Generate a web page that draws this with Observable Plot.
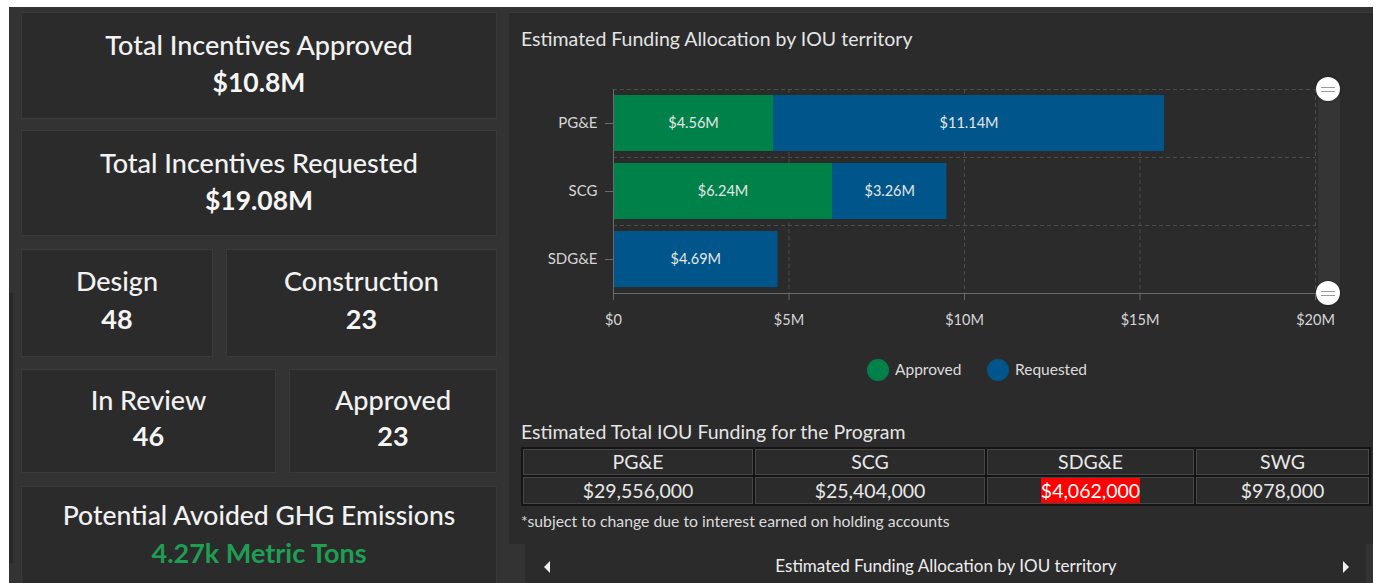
<!DOCTYPE html>
<html>
<head>
<meta charset="utf-8">
<script src="https://cdn.jsdelivr.net/npm/d3@7"></script>
<script src="https://cdn.jsdelivr.net/npm/@observablehq/plot@0.6"></script>
<style>
  html, body { margin: 0; padding: 0; background: #ffffff; }
  #page { position: relative; width: 1379px; height: 583px; overflow: hidden; font-family: Lato, "Open Sans", sans-serif; }
  .abs { position: absolute; box-sizing: border-box; }
  .card { background: #2b2b2b; border: 1px solid #3a3a3a; }
  .txt { position: absolute; white-space: nowrap; }
  table.iou { position: absolute; border-collapse: collapse; table-layout: fixed; }
  table.iou td { border: 2px solid #141414; box-shadow: inset 0 0 0 1px #474747; color: #e8e8e8; text-align: center; font-size: 19.5px; padding: 0; background: #2b2b2b; line-height: 22px; }
</style>
</head>
<body>
<div id="page"></div>
<script>
// ---------------- data ----------------
const kpiTitles = ["Total Incentives Approved", "Total Incentives Requested", "Design", "Construction", "In Review", "Approved", "Potential Avoided GHG Emissions"];
const kpiValues = ["$10.8M", "$19.08M", "48", "23", "46", "23", "4.27k Metric Tons"];

const categories = ["PG&E", "SCG", "SDG&E"];
const series = ["Approved", "Requested"];
const approved = [4.56, 6.24, 0];
const requested = [11.14, 3.26, 4.69];
const xTicks = [0, 5, 10, 15, 20];
const xTickLabels = ["$0", "$5M", "$10M", "$15M", "$20M"];
const seriesColors = ["#00814a", "#00558b"];

const chartTitle = "Estimated Funding Allocation by IOU territory";
const tableTitle = "Estimated Total IOU Funding for the Program";
const tableHeaders = ["PG&E", "SCG", "SDG&E", "SWG"];
const tableValues = [29556000, 25404000, 4062000, 978000];
const footnote = "*subject to change due to interest earned on holding accounts";
const navLabel = "Estimated Funding Allocation by IOU territory";

// ---------------- layout helpers ----------------
const page = document.getElementById("page");
function box(x, y, w, h, bg, cls) {
  const d = document.createElement("div");
  d.className = "abs" + (cls ? " " + cls : "");
  Object.assign(d.style, {left: x + "px", top: y + "px", width: w + "px", height: h + "px"});
  if (bg) d.style.background = bg;
  page.appendChild(d);
  return d;
}
// place text so that its cap-height centre sits at cy
function text(str, x, cy, size, opts = {}) {
  const d = document.createElement("div");
  d.className = "txt";
  d.textContent = str;
  const lh = size * 1.2;
  Object.assign(d.style, {
    top: (cy - 0.63 * size) + "px",
    fontSize: size + "px",
    lineHeight: lh + "px",
    color: opts.color || "#f2f2f2",
    fontWeight: opts.weight || 400
  });
  if (opts.align === "center") {
    d.style.left = (x - 400) + "px";
    d.style.width = "800px";
    d.style.textAlign = "center";
  } else {
    d.style.left = x + "px";
  }
  page.appendChild(d);
  return d;
}

// dashboard background
box(9, 7, 1364, 576, "#333333");
box(9, 293, 4, 270, "#282828");

// KPI cards
const cards = [
  [21, 12, 476, 107, 46.5, 84, 27, 26.5],
  [21, 130, 476, 106, 164.5, 202, 27, 26.5],
  [21, 249, 192, 108, 282, 320, 27, 27],
  [226, 249, 271, 108, 282, 320, 27, 27],
  [21, 369, 255, 104, 401, 437.5, 27, 27],
  [289, 369, 208, 104, 401, 437.5, 27, 27],
  [21, 486, 476, 110, 516.5, 554, 26.5, 27]
];
cards.forEach(([x, y, w, h, ty, vy, ts, vs], i) => {
  box(x, y, w, h, null, "card");
  const cx = x + w / 2;
  text(kpiTitles[i], cx, ty, ts, {align: "center", weight: 500});
  text(kpiValues[i], cx, vy, vs, {align: "center", weight: 700, color: i === 6 ? "#1e9e52" : "#f6f6f6"});
});

// right panel
const panel = box(509, 12, 864, 532, "#2b2b2b");
panel.style.borderTop = "1px solid #3a3a3a";
box(525, 544, 841, 45, "#2b2b2b");

text(chartTitle, 521, 39, 19.5, {color: "#e4e4e4"});

// ---------------- chart ----------------
const rows = categories.flatMap((c, i) => [
  {cat: c, series: series[0], value: approved[i]},
  {cat: c, series: series[1], value: requested[i]}
]);
const fmtVal = v => "$" + v.toFixed(2) + "M";
const tickFmt = d => xTickLabels[xTicks.indexOf(d)];

const chart = Plot.plot({
  width: 836,
  height: 273,
  marginLeft: 104,
  marginRight: 30,
  marginTop: 29,
  marginBottom: 40,
  style: {background: "transparent", color: "#d6d6d6", fontFamily: "Lato, sans-serif", fontSize: "14.5px", overflow: "visible"},
  x: {domain: [0, 20], label: null},
  y: {domain: categories, paddingInner: 0.18, paddingOuter: 0.09, label: null},
  color: {domain: series, range: seriesColors},
  marks: [
    Plot.gridX({ticks: [5, 10, 15, 20], stroke: "#4c4c4c", strokeOpacity: 1, strokeDasharray: "4,3"}),
    Plot.ruleY(categories, {y: d => d, dy: -34, stroke: "#4c4c4c", strokeDasharray: "4,3"}),
    Plot.barX(rows, Plot.stackX({y: "cat", x: "value", fill: "series"})),
    Plot.text(rows.filter(d => d.value > 0), Plot.stackX({y: "cat", x: "value", text: d => fmtVal(d.value), fill: "#e6e6e6", fontSize: 14.5})),
    Plot.axisX({ticks: xTicks, tickFormat: tickFmt, tickSize: 7, tickPadding: 14, stroke: "#6a6a6a", fill: "#d6d6d6"}),
    Plot.axisY({tickSize: 8, tickPadding: 8, stroke: "#6a6a6a", fill: "#d6d6d6", fontSize: 15}),
    Plot.frame({anchor: "bottom", stroke: "#6a6a6a"}),
    Plot.frame({anchor: "left", stroke: "#6a6a6a"})
  ]
});
const holder = box(509, 60, 836, 273, null);
holder.appendChild(chart);

// zoom slider (UI chrome)
box(1318, 89, 22, 204, "#353535");
[89, 293].forEach(cy => {
  const h = box(1316, cy - 12, 24, 24, "#ffffff");
  h.style.borderRadius = "50%";
  h.style.boxShadow = "0 0 2px rgba(0,0,0,0.6)";
  [-2, 2].forEach(o => {
    box(1321, cy + o - 0.5, 14, 1.5, "#9a9a9a");
  });
});

// legend
const color = chart.scale("color");
const legendItems = [[878, 895], [998, 1015]];
series.forEach((s, i) => {
  const [cx, tx] = legendItems[i];
  const c = box(cx - 11, 370 - 11, 22, 22, color.apply(s));
  c.style.borderRadius = "50%";
  text(s, tx, 370, 15.5, {color: "#dcdcdc"});
});

// table
text(tableTitle, 521, 432.5, 19.5, {color: "#e4e4e4"});
const table = document.createElement("table");
table.className = "iou";
Object.assign(table.style, {left: "521px", top: "447px", width: "848px"});
const colW = [232, 232, 209, 175];
const colgroup = document.createElement("colgroup");
colW.forEach(w => { const c = document.createElement("col"); c.style.width = w + "px"; colgroup.appendChild(c); });
table.appendChild(colgroup);
const fmtMoney = d3.format("$,");
const tr1 = document.createElement("tr");
const tr2 = document.createElement("tr");
tableHeaders.forEach((h, i) => {
  const td = document.createElement("td");
  td.style.height = "26px";
  td.textContent = h;
  tr1.appendChild(td);
  const td2 = document.createElement("td");
  td2.style.height = "27px";
  const span = document.createElement("span");
  span.textContent = fmtMoney(tableValues[i]);
  if (h === "SDG&E") { span.style.background = "#ff0000"; span.style.color = "#ffffff"; span.style.padding = "1px 0"; }
  td2.appendChild(span);
  tr2.appendChild(td2);
});
table.appendChild(tr1);
table.appendChild(tr2);
page.appendChild(table);

text(footnote, 521, 522, 15.8, {color: "#dcdcdc"});

// navigation bar
text(navLabel, 946, 567, 17, {align: "center", color: "#eeeeee"});
const navSvg = document.createElementNS("http://www.w3.org/2000/svg", "svg");
navSvg.setAttribute("width", 1379); navSvg.setAttribute("height", 583);
navSvg.style.position = "absolute"; navSvg.style.left = "0"; navSvg.style.top = "0"; navSvg.style.pointerEvents = "none";
navSvg.innerHTML = '<path d="M544,567 L550,561 L550,573 Z" fill="#f0f0f0"/><path d="M1349,567 L1343,561 L1343,573 Z" fill="#f0f0f0"/>';
page.appendChild(navSvg);
</script>
</body>
</html>
